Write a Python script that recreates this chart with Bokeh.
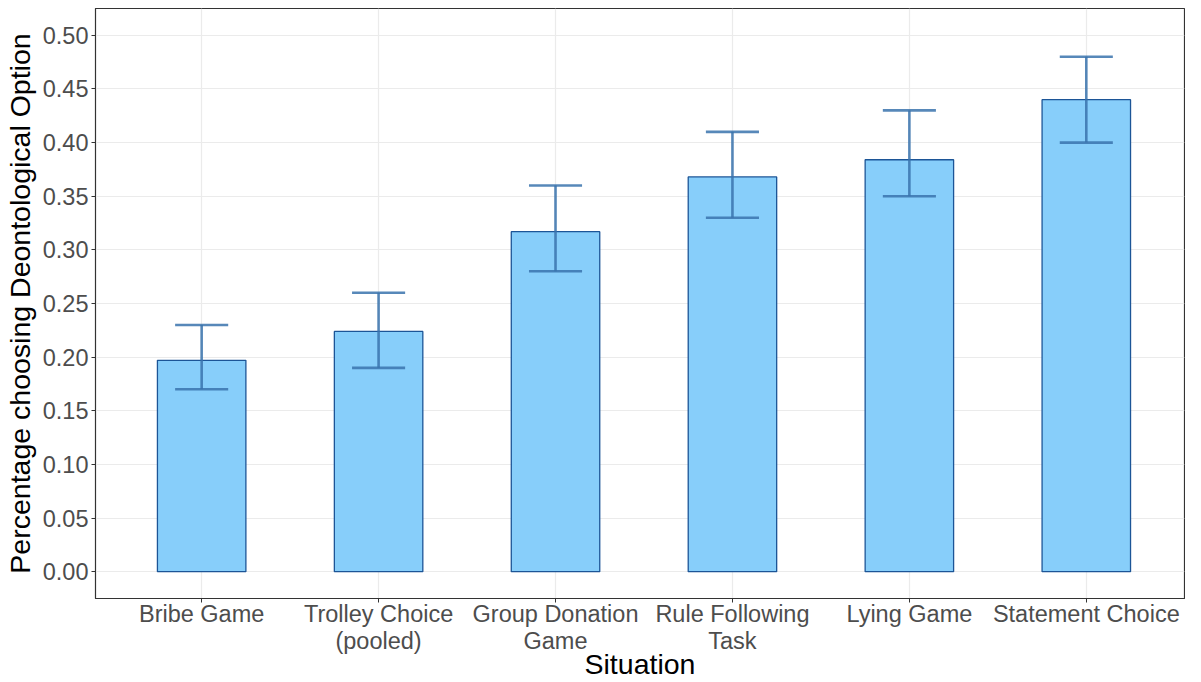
from bokeh.plotting import figure
from bokeh.models import FixedTicker, Range1d, NumeralTickFormatter, ColumnDataSource
from bokeh.embed import file_html
from bokeh.resources import INLINE
import numpy as np

categories = ["Bribe Game", "Trolley Choice\n(pooled)", "Group Donation\nGame",
              "Rule Following\nTask", "Lying Game", "Statement Choice"]
values = [0.197, 0.224, 0.317, 0.368, 0.384, 0.440]
lower = [0.17, 0.19, 0.28, 0.33, 0.35, 0.40]
upper = [0.23, 0.26, 0.36, 0.41, 0.43, 0.48]
y_ticks = [0.0, 0.05, 0.10, 0.15, 0.20, 0.25, 0.30, 0.35, 0.40, 0.45, 0.50]

pos = np.arange(1, len(categories) + 1)
bar_w = 0.5
cap_w = 0.3

src = ColumnDataSource(dict(x=pos, top=values, lo=lower, hi=upper,
                            xl=pos - cap_w / 2, xr=pos + cap_w / 2))

p = figure(width=1185, height=682, output_backend="svg", toolbar_location=None,
           x_range=Range1d(0.4, 6.555), y_range=Range1d(-0.025, 0.525),
           min_border_left=86, min_border_right=1, min_border_top=8, min_border_bottom=84)

p.vbar(x="x", top="top", bottom=0, width=bar_w, source=src,
       fill_color="#87CEFA", line_color="#1c5597", line_width=1.3)
err_kw = dict(source=src, line_color="#3a73ad", line_width=2.6, line_alpha=0.85)
p.segment(x0="x", x1="x", y0="lo", y1="hi", **err_kw)
p.segment(x0="xl", x1="xr", y0="lo", y1="lo", **err_kw)
p.segment(x0="xl", x1="xr", y0="hi", y1="hi", **err_kw)

p.xaxis.ticker = FixedTicker(ticks=list(pos))
p.xaxis.major_label_overrides = {int(k): c for k, c in zip(pos, categories)}
p.yaxis.ticker = FixedTicker(ticks=y_ticks)
p.yaxis.formatter = NumeralTickFormatter(format="0.00")

for ax in (p.xaxis, p.yaxis):
    ax.axis_line_color = "#333333"
    ax.major_tick_line_color = "#333333"
    ax.major_tick_in = 0
    ax.major_tick_out = 4
    ax.minor_tick_line_color = None
    ax.major_label_text_font = "Liberation Sans"
    ax.major_label_text_font_size = "23.5px"
    ax.major_label_text_color = "#4d4d4d"
    ax.major_label_text_line_height = 1.05
    ax.axis_label_text_font = "Liberation Sans"
    ax.axis_label_text_font_size = "28.5px"
    ax.axis_label_text_font_style = "normal"
    ax.axis_label_text_color = "black"
    ax.major_label_standoff = 3

p.xaxis.major_label_standoff = -2
p.xaxis.axis_label = "Situation"
p.xaxis.axis_label_standoff = -9
p.yaxis.axis_label = "Percentage choosing Deontological Option"
p.yaxis.axis_label_standoff = 4

p.xgrid.grid_line_color = "#ebebeb"
p.ygrid.grid_line_color = "#ebebeb"
p.xgrid.grid_line_width = 1.2
p.ygrid.grid_line_width = 1.2
p.outline_line_color = "#333333"
p.outline_line_width = 1.2
p.background_fill_color = "white"
p.border_fill_color = "white"

open("out.html", "w").write(file_html(p, INLINE))
